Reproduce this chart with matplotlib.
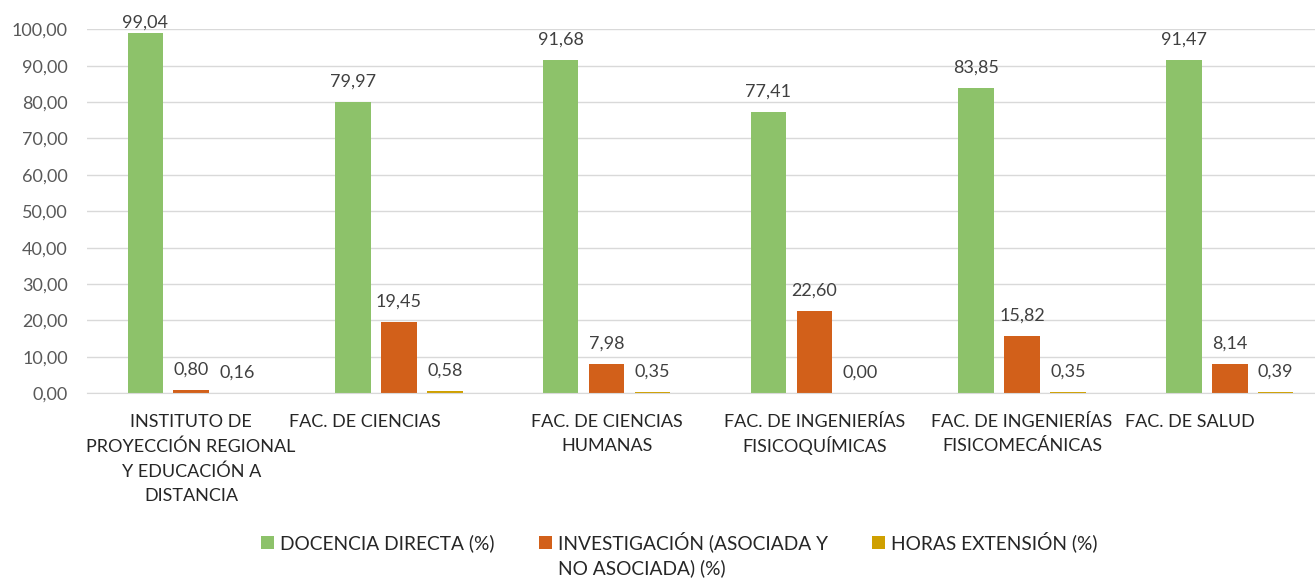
import matplotlib.pyplot as plt
import matplotlib.transforms as mtransforms
import numpy as np

plt.rcParams['font.family'] = ['Lato', 'DejaVu Sans']

categorias = ["INSTITUTO DE\nPROYECCIÓN REGIONAL\nY EDUCACIÓN A\nDISTANCIA",
              "FAC. DE CIENCIAS",
              "FAC. DE CIENCIAS\nHUMANAS",
              "FAC. DE INGENIERÍAS\nFISICOQUÍMICAS",
              "FAC. DE INGENIERÍAS\nFISICOMECÁNICAS",
              "FAC. DE SALUD"]
docencia = [99.04, 79.97, 91.68, 77.41, 83.85, 91.47]
investigacion = [0.80, 19.45, 7.98, 22.60, 15.82, 8.14]
extension = [0.16, 0.58, 0.35, 0.00, 0.35, 0.39]
series = ["DOCENCIA DIRECTA (%)",
          "INVESTIGACIÓN (ASOCIADA Y\nNO ASOCIADA) (%)",
          "HORAS EXTENSIÓN (%)"]
colores = ["#8DC26A", "#D2601A", "#CFA000"]

fig = plt.figure(figsize=(13.15, 5.8), dpi=100)
# el área de trazado se sale por la derecha, como en la captura original
ax = fig.add_axes([0.0664, 0.3219, 0.9336, 0.6276])

x = np.arange(len(categorias))
w = 0.171
handles = []
for i, (vals, c) in enumerate(zip([docencia, investigacion, extension], colores)):
    pos = x + (i - 1) * 0.221
    bars = ax.bar(pos, vals, w, color=c, zorder=2)
    handles.append(bars)
    for p, v in zip(pos, vals):
        ax.text(p, min(v + 5.6, 101.9), f"{v:.2f}".replace(".", ","), ha='center', va='center',
                fontsize=13, color='#404040', clip_on=False)

ax.set_xlim(-0.5, 5.41)
ax.set_ylim(0, 100)
ax.set_yticks(np.arange(0, 101, 10))
ax.set_yticklabels([f"{t:.2f}".replace(".", ",") for t in range(0, 101, 10)])
ax.set_xticks(x)
ax.set_xticklabels(categorias, fontsize=13, color='#262626', linespacing=1.62)
ax.tick_params(axis='y', labelsize=13, colors='#595959', length=0, pad=14)
ax.tick_params(axis='x', length=0, pad=15)
ax.grid(axis='y', color='#D9D9D9', linewidth=1, zorder=0)
for s in ['top', 'right', 'left']:
    ax.spines[s].set_visible(False)
ax.spines['bottom'].set_color('#D9D9D9')

# las etiquetas de una sola línea quedan corridas a la izquierda en el original
desplaz_px = {1: -34, 5: -40}
for k, dx in desplaz_px.items():
    lab = ax.get_xticklabels()[k]
    lab.set_transform(lab.get_transform() + mtransforms.ScaledTranslation(dx / 100, 0, fig.dpi_scale_trans))
# la Q con tilde baja la segunda línea; se compensa
ax.get_xticklabels()[3].set_linespacing(1.36)

# leyenda: la segunda etiqueta parte en dos líneas, alineada arriba como en el original
primeras = [s.split("\n")[0] for s in series]
leg = fig.legend(handles, primeras, loc='center left', bbox_to_anchor=(0.1985, 0.0655), ncol=3,
                 frameon=False, fontsize=13.8, handlelength=0.7, handleheight=0.7,
                 columnspacing=2.3, handletextpad=0.3, labelcolor='#262626',
                 borderpad=0, borderaxespad=0)
fig.canvas.draw()
t2 = leg.get_texts()[1]
bb = t2.get_window_extent().transformed(fig.transFigure.inverted())
fig.text(bb.x0, 0.0207, series[1].split("\n")[1], ha='left', va='center',
         fontsize=13.8, color='#262626')

fig.savefig("out.png", dpi=100)
